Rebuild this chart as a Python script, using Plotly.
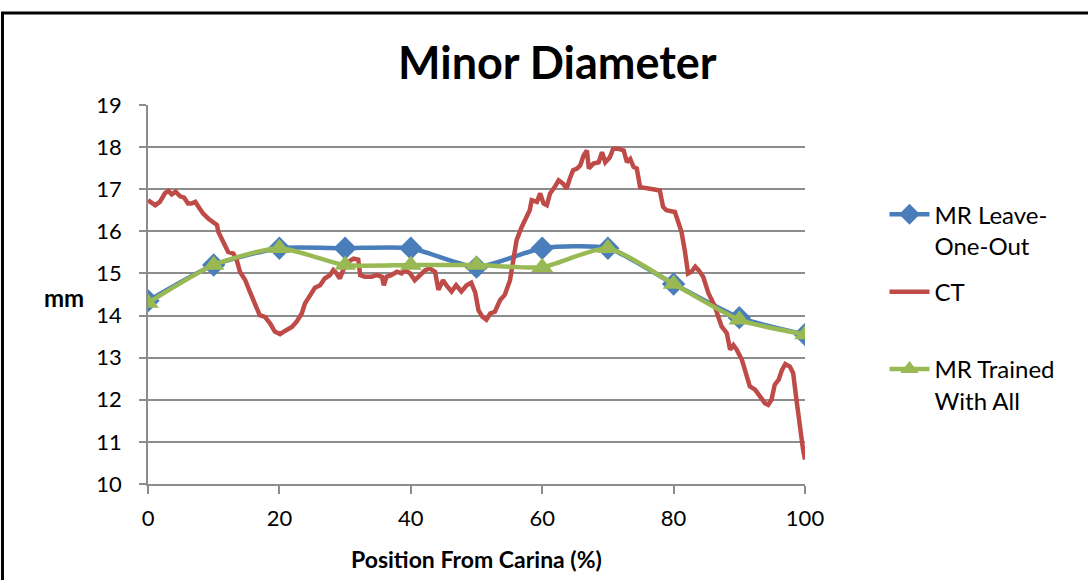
import plotly.graph_objects as go

# ---- data ----
mr_x = [0, 10, 20, 30, 40, 50, 60, 70, 80, 90, 100]
mr_loo = [14.35, 15.2, 15.6, 15.6, 15.6, 15.15, 15.6, 15.6, 14.75, 13.95, 13.55]
mr_all = [14.3, 15.2, 15.6, 15.2, 15.2, 15.2, 15.15, 15.6, 14.75, 13.9, 13.55]

ct_x = [0, 1.1, 1.8, 2.6, 3.1, 3.6, 4.2, 4.9, 5.5, 6.1, 6.6, 7.2, 7.7, 8.4, 9.2, 9.9,
        10.5, 10.7, 11.2, 11.7, 12.2, 13.0, 13.5, 14.0, 14.8, 15.5, 16.3, 17.0, 17.8,
        18.6, 19.3, 20.1, 20.9, 21.9, 22.6, 23.4, 23.9, 24.7, 25.4, 26.2, 26.9, 27.7,
        28.2, 28.7, 29.2, 29.7, 30.5, 31.3, 32.0, 32.3, 33.0, 34.0, 34.8, 35.6, 35.9,
        36.3, 37.0, 37.9, 38.6, 39.1, 39.9, 40.6, 41.4, 42.2, 42.9, 43.7, 44.2, 44.9,
        45.4, 46.2, 46.9, 47.7, 48.5, 49.2, 49.8, 50.3, 50.9, 51.5, 52.1, 52.8, 53.6,
        54.3, 55.1, 55.6, 56.1, 56.9, 57.4, 58.1, 58.4, 59.2, 59.7, 60.2, 60.7, 61.2,
        61.9, 62.5, 63.2, 63.7, 64.2, 64.7, 65.3, 65.8, 66.3, 66.8, 67.1, 67.8, 68.6,
        69.1, 69.6, 70.3, 70.8, 71.6, 72.4, 72.9, 73.4, 73.9, 74.4, 74.9, 76.4, 77.9,
        78.4, 78.9, 80.2, 80.7, 81.2, 81.7, 82.2, 82.7, 83.3, 83.8, 84.5, 85.3, 85.8,
        86.3, 86.8, 87.3, 88.1, 88.6, 89.1, 89.6, 90.4, 90.9, 91.6, 92.4, 93.2, 93.9,
        94.4, 94.9, 95.4, 96.0, 96.5, 97.0, 97.7, 98.2, 98.7, 99.2, 99.7, 100.0]
ct_y = [16.74, 16.62, 16.70, 16.91, 16.96, 16.88, 16.94, 16.83, 16.80, 16.66, 16.66,
        16.70, 16.58, 16.42, 16.30, 16.23, 16.15, 15.99, 15.83, 15.71, 15.51, 15.47,
        15.32, 15.04, 14.84, 14.57, 14.29, 14.01, 13.97, 13.81, 13.62, 13.56, 13.64,
        13.73, 13.85, 14.05, 14.29, 14.48, 14.66, 14.72, 14.88, 14.96, 15.08, 15.00,
        14.88, 15.08, 15.28, 15.35, 15.33, 14.96, 14.92, 14.92, 14.96, 14.92, 14.72,
        14.92, 14.96, 15.04, 15.00, 15.08, 15.00, 14.84, 14.96, 15.08, 15.12, 15.04,
        14.61, 14.84, 14.72, 14.57, 14.72, 14.57, 14.72, 14.78, 14.55, 14.13, 13.97,
        13.90, 14.05, 14.09, 14.37, 14.49, 14.84, 15.32, 15.79, 16.11, 16.30, 16.50,
        16.74, 16.70, 16.90, 16.66, 16.62, 16.90, 17.05, 17.21, 17.13, 17.01, 17.25,
        17.45, 17.49, 17.57, 17.80, 17.92, 17.49, 17.61, 17.64, 17.88, 17.64, 17.76,
        17.96, 17.96, 17.92, 17.64, 17.72, 17.53, 17.49, 17.05, 17.01, 16.97, 16.58,
        16.50, 16.46, 16.26, 15.99, 15.55, 15.00, 15.04, 15.16, 15.08, 14.92, 14.53,
        14.37, 14.21, 13.97, 13.74, 13.58, 13.19, 13.30, 13.19, 12.95, 12.71, 12.32,
        12.24, 12.08, 11.92, 11.88, 12.00, 12.36, 12.48, 12.71, 12.85, 12.79, 12.63,
        12.00, 11.37, 10.82, 10.58]

x_ticks = [0, 20, 40, 60, 80, 100]
y_ticks = [10, 11, 12, 13, 14, 15, 16, 17, 18, 19]

names = ["MR Leave-<br>One-Out", "CT<br> ", "MR Trained<br>With All"]
colors = ["#4A7EBB", "#BE4B48", "#98B954"]

FONT = "Lato"

fig = go.Figure()
fig.add_trace(go.Scatter(
    x=mr_x, y=mr_loo, name=names[0], mode="lines+markers", legendgroup="a",
    line=dict(color=colors[0], width=4.5, shape="spline", smoothing=0.6),
    marker=dict(symbol="diamond", size=18, color=colors[0])))
fig.add_trace(go.Scatter(
    x=ct_x, y=ct_y, name=names[1], mode="lines", legendgroup="b",
    line=dict(color=colors[1], width=4.5)))
fig.add_trace(go.Scatter(
    x=mr_x, y=mr_all, name=names[2], mode="lines+markers", legendgroup="c",
    line=dict(color=colors[2], width=4.5, shape="spline", smoothing=0.6),
    marker=dict(symbol="triangle-up", size=19, color=colors[2])))

grid = "#8C8C8C"
fig.update_layout(
    width=1088, height=580,
    margin=dict(l=148, r=283, t=105, b=96),
    paper_bgcolor="white", plot_bgcolor="white",
    font=dict(family=FONT, color="black", size=22),
    showlegend=True,
    legend=dict(x=1.121, y=0.77, xanchor="left", yanchor="top",
                font=dict(family=FONT, size=24, color="black"),
                tracegroupgap=12, valign="top", itemwidth=40,
                bgcolor="rgba(0,0,0,0)"),
    xaxis=dict(range=[0, 100], tickvals=x_ticks, showgrid=False,
               showline=True, linecolor=grid, linewidth=1.5,
               ticks="outside", ticklen=8, tickcolor=grid, tickwidth=1.5,
               ticklabelstandoff=6,
               tickfont=dict(family=FONT, size=22), zeroline=False),
    yaxis=dict(range=[10, 19], tickvals=y_ticks, showgrid=True,
               gridcolor=grid, gridwidth=1.5,
               showline=True, linecolor=grid, linewidth=1.5,
               ticks="outside", ticklen=7, tickcolor=grid, tickwidth=1.5,
               ticklabelstandoff=13,
               tickfont=dict(family=FONT, size=22), zeroline=False),
    annotations=[
        dict(text="<b>Minor Diameter</b>", xref="paper", yref="paper",
             x=0.624, y=1.113, xanchor="center", yanchor="middle",
             showarrow=False, font=dict(family=FONT, size=45, color="black")),
        dict(text="<b>mm</b>", xref="paper", yref="paper",
             x=-0.128, y=0.491, xanchor="center", yanchor="middle",
             showarrow=False, font=dict(family=FONT, size=24, color="black")),
        dict(text="<b>Position From Carina (%)</b>", xref="paper", yref="paper",
             x=0.5, y=-0.198, xanchor="center", yanchor="middle",
             showarrow=False, font=dict(family=FONT, size=23, color="black")),
    ],
    shapes=[dict(type="rect", xref="paper", yref="paper",
                 x0=-0.2215, x1=1.45, y0=-0.3, y1=1.243,
                 line=dict(color="black", width=3), layer="below")],
)

fig.write_html("out.html", config={"displayModeBar": False},
               post_script="document.body.style.margin='0';")
